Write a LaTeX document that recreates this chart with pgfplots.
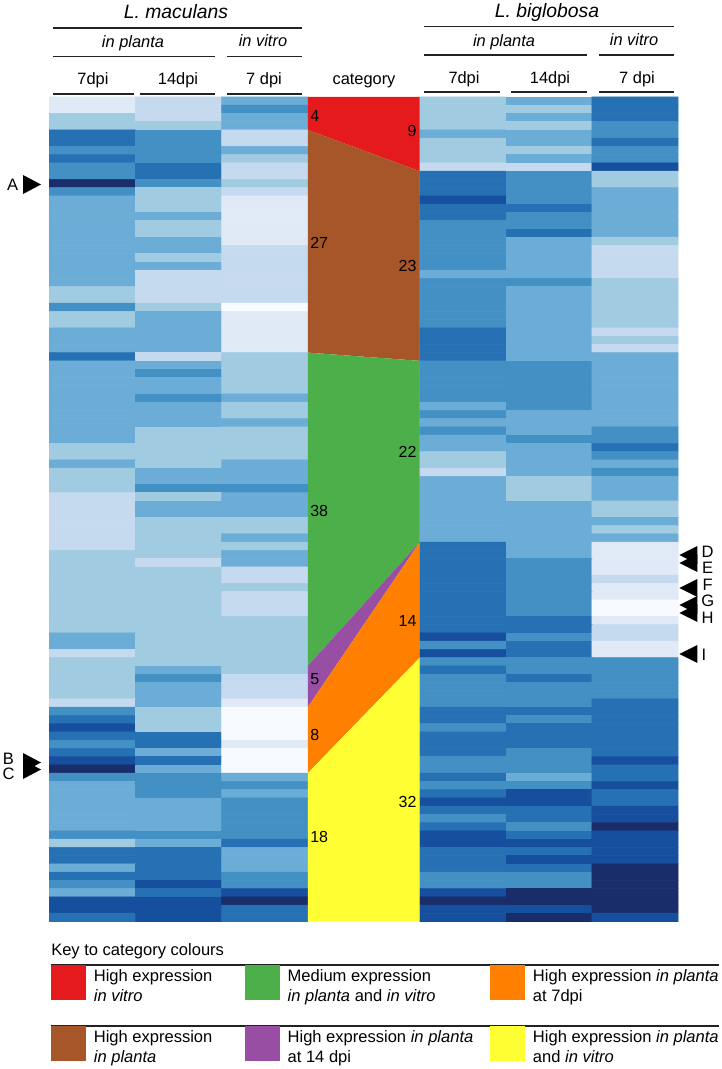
\documentclass[border=0pt]{standalone}
\usepackage{fontspec}
\setmainfont{Liberation Sans}
\usepackage{pgfplots}
\pgfplotsset{compat=1.18}

\definecolor{catred}{HTML}{E41A1C}
\definecolor{catbrown}{HTML}{A65628}
\definecolor{catgreen}{HTML}{4DAF4A}
\definecolor{catpurple}{HTML}{984EA3}
\definecolor{catorange}{HTML}{FF7F00}
\definecolor{catyellow}{HTML}{FFFF33}
\definecolor{rulegrey}{HTML}{222222}

% 1px of the reference = 0.75pt
\newcommand{\lab}[4][base]{\node[anchor=#1,inner sep=0pt,font=\fontsize{#2}{#2}\selectfont] at (axis cs:#3) {#4};}
\newcommand{\hln}[3]{\addplot[rulegrey,line width=1pt] coordinates {(#1,#3)(#2,#3)};}

\begin{document}
\begin{tikzpicture}
\path[use as bounding box] (0,0) rectangle (540.75pt,801.75pt);

% heat map and category bands, x in columns, y in gene rows
\begin{axis}[
    at={(37.125pt,110.625pt)}, anchor=south west,
    scale only axis, width=471.375pt, height=618.375pt,
    xmin=-0.5, xmax=6.8, ymin=0, ymax=100, y dir=reverse,
    hide axis, clip=false,
    colormap={hm}{rgb255=(247,251,255) rgb255=(223,234,246) rgb255=(198,218,239)
        rgb255=(160,203,225) rgb255=(108,173,215) rgb255=(67,144,197)
        rgb255=(38,112,180) rgb255=(22,79,158) rgb255=(26,45,107)},
    point meta min=0, point meta max=8,
]
\addplot[matrix plot*, mesh/cols=3, point meta=explicit] coordinates {
(0,0.5)[1](1,0.5)[2](2,0.5)[4]
(0,1.5)[1](1,1.5)[2](2,1.5)[5]
(0,2.5)[3](1,2.5)[2](2,2.5)[4]
(0,3.5)[3](1,3.5)[3](2,3.5)[4]
(0,4.5)[6](1,4.5)[5](2,4.5)[2]
(0,5.5)[6](1,5.5)[5](2,5.5)[2]
(0,6.5)[5](1,6.5)[5](2,6.5)[4]
(0,7.5)[6](1,7.5)[5](2,7.5)[3]
(0,8.5)[5](1,8.5)[6](2,8.5)[2]
(0,9.5)[5](1,9.5)[6](2,9.5)[2]
(0,10.5)[8](1,10.5)[5](2,10.5)[3]
(0,11.5)[5](1,11.5)[3](2,11.5)[2]
(0,12.5)[4](1,12.5)[3](2,12.5)[1]
(0,13.5)[4](1,13.5)[3](2,13.5)[1]
(0,14.5)[4](1,14.5)[4](2,14.5)[1]
(0,15.5)[4](1,15.5)[3](2,15.5)[1]
(0,16.5)[4](1,16.5)[3](2,16.5)[1]
(0,17.5)[4](1,17.5)[4](2,17.5)[1]
(0,18.5)[4](1,18.5)[4](2,18.5)[2]
(0,19.5)[4](1,19.5)[3](2,19.5)[2]
(0,20.5)[4](1,20.5)[4](2,20.5)[2]
(0,21.5)[4](1,21.5)[2](2,21.5)[2]
(0,22.5)[4](1,22.5)[2](2,22.5)[2]
(0,23.5)[3](1,23.5)[2](2,23.5)[2]
(0,24.5)[3](1,24.5)[2](2,24.5)[2]
(0,25.5)[5](1,25.5)[3](2,25.5)[0]
(0,26.5)[3](1,26.5)[4](2,26.5)[1]
(0,27.5)[3](1,27.5)[4](2,27.5)[1]
(0,28.5)[4](1,28.5)[4](2,28.5)[1]
(0,29.5)[4](1,29.5)[4](2,29.5)[1]
(0,30.5)[4](1,30.5)[4](2,30.5)[1]
(0,31.5)[6](1,31.5)[2](2,31.5)[3]
(0,32.5)[4](1,32.5)[4](2,32.5)[3]
(0,33.5)[4](1,33.5)[5](2,33.5)[3]
(0,34.5)[4](1,34.5)[4](2,34.5)[3]
(0,35.5)[4](1,35.5)[4](2,35.5)[3]
(0,36.5)[4](1,36.5)[5](2,36.5)[4]
(0,37.5)[4](1,37.5)[4](2,37.5)[3]
(0,38.5)[4](1,38.5)[4](2,38.5)[3]
(0,39.5)[4](1,39.5)[4](2,39.5)[4]
(0,40.5)[4](1,40.5)[3](2,40.5)[3]
(0,41.5)[4](1,41.5)[3](2,41.5)[3]
(0,42.5)[3](1,42.5)[3](2,42.5)[3]
(0,43.5)[3](1,43.5)[3](2,43.5)[3]
(0,44.5)[4](1,44.5)[3](2,44.5)[4]
(0,45.5)[3](1,45.5)[4](2,45.5)[4]
(0,46.5)[3](1,46.5)[4](2,46.5)[4]
(0,47.5)[3](1,47.5)[5](2,47.5)[5]
(0,48.5)[2](1,48.5)[3](2,48.5)[4]
(0,49.5)[2](1,49.5)[4](2,49.5)[4]
(0,50.5)[2](1,50.5)[4](2,50.5)[4]
(0,51.5)[2](1,51.5)[3](2,51.5)[3]
(0,52.5)[2](1,52.5)[3](2,52.5)[3]
(0,53.5)[2](1,53.5)[3](2,53.5)[4]
(0,54.5)[2](1,54.5)[3](2,54.5)[3]
(0,55.5)[3](1,55.5)[3](2,55.5)[4]
(0,56.5)[3](1,56.5)[2](2,56.5)[4]
(0,57.5)[3](1,57.5)[3](2,57.5)[2]
(0,58.5)[3](1,58.5)[3](2,58.5)[2]
(0,59.5)[3](1,59.5)[3](2,59.5)[3]
(0,60.5)[3](1,60.5)[3](2,60.5)[2]
(0,61.5)[3](1,61.5)[3](2,61.5)[2]
(0,62.5)[3](1,62.5)[3](2,62.5)[2]
(0,63.5)[3](1,63.5)[3](2,63.5)[3]
(0,64.5)[3](1,64.5)[3](2,64.5)[3]
(0,65.5)[4](1,65.5)[3](2,65.5)[3]
(0,66.5)[4](1,66.5)[3](2,66.5)[3]
(0,67.5)[2](1,67.5)[3](2,67.5)[3]
(0,68.5)[3](1,68.5)[3](2,68.5)[3]
(0,69.5)[3](1,69.5)[4](2,69.5)[3]
(0,70.5)[3](1,70.5)[5](2,70.5)[2]
(0,71.5)[3](1,71.5)[4](2,71.5)[2]
(0,72.5)[3](1,72.5)[4](2,72.5)[2]
(0,73.5)[2](1,73.5)[4](2,73.5)[1]
(0,74.5)[5](1,74.5)[3](2,74.5)[0]
(0,75.5)[6](1,75.5)[3](2,75.5)[0]
(0,76.5)[7](1,76.5)[3](2,76.5)[0]
(0,77.5)[6](1,77.5)[6](2,77.5)[0]
(0,78.5)[5](1,78.5)[6](2,78.5)[1]
(0,79.5)[6](1,79.5)[4](2,79.5)[0]
(0,80.5)[7](1,80.5)[6](2,80.5)[0]
(0,81.5)[8](1,81.5)[4](2,81.5)[0]
(0,82.5)[5](1,82.5)[5](2,82.5)[4]
(0,83.5)[4](1,83.5)[5](2,83.5)[5]
(0,84.5)[4](1,84.5)[5](2,84.5)[4]
(0,85.5)[4](1,85.5)[4](2,85.5)[5]
(0,86.5)[4](1,86.5)[4](2,86.5)[5]
(0,87.5)[4](1,87.5)[4](2,87.5)[5]
(0,88.5)[4](1,88.5)[4](2,88.5)[5]
(0,89.5)[5](1,89.5)[5](2,89.5)[5]
(0,90.5)[3](1,90.5)[4](2,90.5)[6]
(0,91.5)[6](1,91.5)[6](2,91.5)[4]
(0,92.5)[6](1,92.5)[6](2,92.5)[4]
(0,93.5)[4](1,93.5)[6](2,93.5)[4]
(0,94.5)[6](1,94.5)[6](2,94.5)[5]
(0,95.5)[5](1,95.5)[7](2,95.5)[5]
(0,96.5)[4](1,96.5)[6](2,96.5)[7]
(0,97.5)[7](1,97.5)[7](2,97.5)[8]
(0,98.5)[7](1,98.5)[7](2,98.5)[6]
(0,99.5)[6](1,99.5)[7](2,99.5)[6]
};
\addplot[matrix plot*, mesh/cols=3, point meta=explicit] coordinates {
(4.3,0.5)[3](5.3,0.5)[4](6.3,0.5)[6]
(4.3,1.5)[3](5.3,1.5)[3](6.3,1.5)[6]
(4.3,2.5)[3](5.3,2.5)[4](6.3,2.5)[6]
(4.3,3.5)[3](5.3,3.5)[3](6.3,3.5)[5]
(4.3,4.5)[4](5.3,4.5)[4](6.3,4.5)[5]
(4.3,5.5)[3](5.3,5.5)[4](6.3,5.5)[6]
(4.3,6.5)[3](5.3,6.5)[3](6.3,6.5)[5]
(4.3,7.5)[3](5.3,7.5)[4](6.3,7.5)[5]
(4.3,8.5)[2](5.3,8.5)[2](6.3,8.5)[7]
(4.3,9.5)[6](5.3,9.5)[5](6.3,9.5)[3]
(4.3,10.5)[6](5.3,10.5)[5](6.3,10.5)[3]
(4.3,11.5)[6](5.3,11.5)[5](6.3,11.5)[4]
(4.3,12.5)[7](5.3,12.5)[5](6.3,12.5)[4]
(4.3,13.5)[6](5.3,13.5)[6](6.3,13.5)[4]
(4.3,14.5)[6](5.3,14.5)[5](6.3,14.5)[4]
(4.3,15.5)[5](5.3,15.5)[5](6.3,15.5)[4]
(4.3,16.5)[5](5.3,16.5)[6](6.3,16.5)[4]
(4.3,17.5)[5](5.3,17.5)[4](6.3,17.5)[3]
(4.3,18.5)[5](5.3,18.5)[4](6.3,18.5)[2]
(4.3,19.5)[5](5.3,19.5)[4](6.3,19.5)[2]
(4.3,20.5)[5](5.3,20.5)[4](6.3,20.5)[2]
(4.3,21.5)[4](5.3,21.5)[4](6.3,21.5)[2]
(4.3,22.5)[5](5.3,22.5)[5](6.3,22.5)[3]
(4.3,23.5)[5](5.3,23.5)[4](6.3,23.5)[3]
(4.3,24.5)[5](5.3,24.5)[4](6.3,24.5)[3]
(4.3,25.5)[5](5.3,25.5)[4](6.3,25.5)[3]
(4.3,26.5)[5](5.3,26.5)[4](6.3,26.5)[3]
(4.3,27.5)[5](5.3,27.5)[4](6.3,27.5)[3]
(4.3,28.5)[6](5.3,28.5)[4](6.3,28.5)[2]
(4.3,29.5)[6](5.3,29.5)[4](6.3,29.5)[3]
(4.3,30.5)[6](5.3,30.5)[4](6.3,30.5)[2]
(4.3,31.5)[6](5.3,31.5)[4](6.3,31.5)[4]
(4.3,32.5)[5](5.3,32.5)[5](6.3,32.5)[4]
(4.3,33.5)[5](5.3,33.5)[5](6.3,33.5)[4]
(4.3,34.5)[5](5.3,34.5)[5](6.3,34.5)[4]
(4.3,35.5)[5](5.3,35.5)[5](6.3,35.5)[4]
(4.3,36.5)[5](5.3,36.5)[5](6.3,36.5)[4]
(4.3,37.5)[4](5.3,37.5)[5](6.3,37.5)[4]
(4.3,38.5)[5](5.3,38.5)[4](6.3,38.5)[4]
(4.3,39.5)[4](5.3,39.5)[4](6.3,39.5)[4]
(4.3,40.5)[5](5.3,40.5)[4](6.3,40.5)[5]
(4.3,41.5)[4](5.3,41.5)[5](6.3,41.5)[5]
(4.3,42.5)[4](5.3,42.5)[4](6.3,42.5)[6]
(4.3,43.5)[3](5.3,43.5)[4](6.3,43.5)[5]
(4.3,44.5)[3](5.3,44.5)[4](6.3,44.5)[4]
(4.3,45.5)[2](5.3,45.5)[4](6.3,45.5)[5]
(4.3,46.5)[4](5.3,46.5)[3](6.3,46.5)[4]
(4.3,47.5)[4](5.3,47.5)[3](6.3,47.5)[4]
(4.3,48.5)[4](5.3,48.5)[3](6.3,48.5)[4]
(4.3,49.5)[4](5.3,49.5)[4](6.3,49.5)[3]
(4.3,50.5)[4](5.3,50.5)[4](6.3,50.5)[3]
(4.3,51.5)[4](5.3,51.5)[4](6.3,51.5)[4]
(4.3,52.5)[4](5.3,52.5)[4](6.3,52.5)[3]
(4.3,53.5)[4](5.3,53.5)[4](6.3,53.5)[4]
(4.3,54.5)[6](5.3,54.5)[4](6.3,54.5)[1]
(4.3,55.5)[6](5.3,55.5)[4](6.3,55.5)[1]
(4.3,56.5)[6](5.3,56.5)[5](6.3,56.5)[1]
(4.3,57.5)[6](5.3,57.5)[5](6.3,57.5)[1]
(4.3,58.5)[6](5.3,58.5)[5](6.3,58.5)[2]
(4.3,59.5)[6](5.3,59.5)[5](6.3,59.5)[1]
(4.3,60.5)[6](5.3,60.5)[5](6.3,60.5)[1]
(4.3,61.5)[6](5.3,61.5)[5](6.3,61.5)[0]
(4.3,62.5)[6](5.3,62.5)[5](6.3,62.5)[0]
(4.3,63.5)[6](5.3,63.5)[6](6.3,63.5)[1]
(4.3,64.5)[6](5.3,64.5)[6](6.3,64.5)[2]
(4.3,65.5)[7](5.3,65.5)[5](6.3,65.5)[2]
(4.3,66.5)[5](5.3,66.5)[6](6.3,66.5)[1]
(4.3,67.5)[7](5.3,67.5)[6](6.3,67.5)[1]
(4.3,68.5)[5](5.3,68.5)[5](6.3,68.5)[5]
(4.3,69.5)[6](5.3,69.5)[5](6.3,69.5)[5]
(4.3,70.5)[5](5.3,70.5)[6](6.3,70.5)[5]
(4.3,71.5)[5](5.3,71.5)[5](6.3,71.5)[5]
(4.3,72.5)[5](5.3,72.5)[5](6.3,72.5)[5]
(4.3,73.5)[5](5.3,73.5)[5](6.3,73.5)[6]
(4.3,74.5)[6](5.3,74.5)[6](6.3,74.5)[6]
(4.3,75.5)[6](5.3,75.5)[5](6.3,75.5)[6]
(4.3,76.5)[5](5.3,76.5)[6](6.3,76.5)[6]
(4.3,77.5)[6](5.3,77.5)[6](6.3,77.5)[6]
(4.3,78.5)[6](5.3,78.5)[6](6.3,78.5)[6]
(4.3,79.5)[6](5.3,79.5)[5](6.3,79.5)[6]
(4.3,80.5)[5](5.3,80.5)[5](6.3,80.5)[7]
(4.3,81.5)[5](5.3,81.5)[5](6.3,81.5)[6]
(4.3,82.5)[6](5.3,82.5)[4](6.3,82.5)[6]
(4.3,83.5)[5](5.3,83.5)[5](6.3,83.5)[7]
(4.3,84.5)[6](5.3,84.5)[7](6.3,84.5)[6]
(4.3,85.5)[7](5.3,85.5)[7](6.3,85.5)[6]
(4.3,86.5)[6](5.3,86.5)[6](6.3,86.5)[7]
(4.3,87.5)[5](5.3,87.5)[6](6.3,87.5)[7]
(4.3,88.5)[6](5.3,88.5)[5](6.3,88.5)[8]
(4.3,89.5)[7](5.3,89.5)[6](6.3,89.5)[7]
(4.3,90.5)[7](5.3,90.5)[7](6.3,90.5)[7]
(4.3,91.5)[6](5.3,91.5)[6](6.3,91.5)[7]
(4.3,92.5)[6](5.3,92.5)[7](6.3,92.5)[7]
(4.3,93.5)[6](5.3,93.5)[6](6.3,93.5)[8]
(4.3,94.5)[5](5.3,94.5)[5](6.3,94.5)[8]
(4.3,95.5)[5](5.3,95.5)[5](6.3,95.5)[8]
(4.3,96.5)[7](5.3,96.5)[8](6.3,96.5)[8]
(4.3,97.5)[8](5.3,97.5)[8](6.3,97.5)[8]
(4.3,98.5)[7](5.3,98.5)[7](6.3,98.5)[8]
(4.3,99.5)[7](5.3,99.5)[8](6.3,99.5)[7]
};
\addplot[fill=catred,draw=none] coordinates {(2.5,0)(3.8,0)(3.8,9)(2.5,4)} --cycle;
\addplot[fill=catbrown,draw=none] coordinates {(2.5,4)(3.8,9)(3.8,32)(2.5,31)} --cycle;
\addplot[fill=catgreen,draw=none] coordinates {(2.5,31)(3.8,32)(3.8,54)(2.5,69)} --cycle;
\addplot[fill=catpurple,draw=none] coordinates {(2.5,69)(3.8,54)(2.5,74)} --cycle;
\addplot[fill=catorange,draw=none] coordinates {(2.5,74)(3.8,54)(3.8,68)(2.5,82)} --cycle;
\addplot[fill=catyellow,draw=none] coordinates {(2.5,82)(3.8,68)(3.8,100)(2.5,100)} --cycle;
\end{axis}

% headers, arrows and key, in reference pixels
\begin{axis}[
    at={(0pt,0pt)}, anchor=south west,
    scale only axis, width=540.75pt, height=801.75pt,
    xmin=0, xmax=721, ymin=0, ymax=1069, y dir=reverse,
    hide axis, clip=false,
]
\hln{53}{302}{28}
\hln{53}{215}{56.7}
\hln{227}{302}{56.7}
\hln{53}{134}{94}
\hln{140}{215}{94}
\hln{227}{302}{94}
\hln{424}{674}{26.7}
\hln{424}{587}{55}
\hln{599}{674}{55}
\hln{424}{499.5}{92}
\hln{511}{587}{92}
\hln{599}{674}{92}
\lab{14.5}{176,19}{\itshape L. maculans}
\lab{14.5}{547,17.3}{\itshape L. biglobosa}
\lab{12.3}{133,48}{\itshape in planta}
\lab{12.3}{263,46.7}{\itshape in vitro}
\lab{12.3}{504,46.7}{\itshape in planta}
\lab{12.3}{634,45.7}{\itshape in vitro}
\lab{12.3}{93,85}{7dpi}
\lab{12.3}{178,85}{14dpi}
\lab{12.3}{264,85}{7 dpi}
\lab{12.3}{364,85}{category}
\lab{12.3}{464,83.3}{7dpi}
\lab{12.3}{550,83.3}{14dpi}
\lab{12.3}{637,83.3}{7 dpi}
% counts
\lab[base west]{12}{310,121.7}{4}
\lab[base west]{12}{310,248.3}{27}
\lab[base west]{12}{310,516}{38}
\lab[base west]{12}{310,684.3}{5}
\lab[base west]{12}{310,740}{8}
\lab[base west]{12}{310,842.3}{18}
\lab[base east]{12}{416.7,136.7}{9}
\lab[base east]{12}{416.7,272}{23}
\lab[base east]{12}{416.7,457.7}{22}
\lab[base east]{12}{416.7,626.7}{14}
\lab[base east]{12}{416.7,807.7}{32}
% arrow heads
\addplot[fill=black,draw=none] coordinates {(23,175)(41,184.5)(23,194)} --cycle;
\addplot[fill=black,draw=none] coordinates {(23,753)(41,762.5)(23,772)} --cycle;
\addplot[fill=black,draw=none] coordinates {(23,760)(41,769.5)(23,779)} --cycle;
\addplot[fill=black,draw=none] coordinates {(697.3,546)(679.3,555)(697.3,564)} --cycle;
\addplot[fill=black,draw=none] coordinates {(697.3,554)(679.3,563)(697.3,572)} --cycle;
\addplot[fill=black,draw=none] coordinates {(697.3,579)(679.3,588)(697.3,597)} --cycle;
\addplot[fill=black,draw=none] coordinates {(697.3,596)(679.3,605)(697.3,614)} --cycle;
\addplot[fill=black,draw=none] coordinates {(697.3,604)(679.3,613)(697.3,622)} --cycle;
\addplot[fill=black,draw=none] coordinates {(697.3,645)(679.3,654)(697.3,663)} --cycle;
\lab{12.4}{12.7,190.7}{A}
\lab{12.4}{8.5,764}{B}
\lab{12.4}{8.5,779}{C}
\lab{12.4}{707.7,557.3}{D}
\lab{12.4}{707.7,573.3}{E}
\lab{12.4}{707.7,590}{F}
\lab{12.4}{707.7,606.7}{G}
\lab{12.4}{707.7,623.3}{H}
\lab{12.4}{704,660}{I}
% key
\lab[base west]{12.4}{51,955.7}{Key to category colours}
\hln{50.7}{718.6}{965}
\hln{50.7}{718.6}{1026}
\addplot[fill=catred,draw=none] coordinates {(50.7,965)(85.8,965)(85.8,1000)(50.7,1000)} --cycle;
\addplot[fill=catgreen,draw=none] coordinates {(244.5,965)(280.4,965)(280.4,1000)(244.5,1000)} --cycle;
\addplot[fill=catorange,draw=none] coordinates {(490,965)(525,965)(525,1000)(490,1000)} --cycle;
\addplot[fill=catbrown,draw=none] coordinates {(50.7,1026)(85.8,1026)(85.8,1061)(50.7,1061)} --cycle;
\addplot[fill=catpurple,draw=none] coordinates {(244.5,1026)(280.4,1026)(280.4,1061)(244.5,1061)} --cycle;
\addplot[fill=catyellow,draw=none] coordinates {(490,1026)(525,1026)(525,1061)(490,1061)} --cycle;
\lab[base west]{12.4}{93.6,981}{High expression}
\lab[base west]{12.4}{93.6,1001}{\itshape in vitro}
\lab[base west]{12.4}{287.4,981}{Medium expression}
\lab[base west]{12.4}{287.4,1001}{\textit{in planta} and \textit{in vitro}}
\lab[base west]{12.4}{532.7,981}{High expression \textit{in planta}}
\lab[base west]{12.4}{532.7,1001}{at 7dpi}
\lab[base west]{12.4}{93.6,1042.7}{High expression}
\lab[base west]{12.4}{93.6,1062.7}{\itshape in planta}
\lab[base west]{12.4}{287.4,1042.7}{High expression \textit{in planta}}
\lab[base west]{12.4}{287.4,1062.7}{at 14 dpi}
\lab[base west]{12.4}{532.7,1042.7}{High expression \textit{in planta}}
\lab[base west]{12.4}{532.7,1062.7}{and \textit{in vitro}}
\end{axis}
\end{tikzpicture}
\end{document}
